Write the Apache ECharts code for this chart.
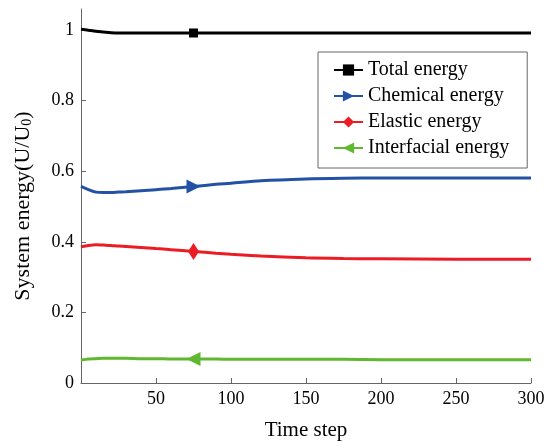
<!DOCTYPE html>
<html>
<head>
<meta charset="utf-8">
<script src="https://cdn.jsdelivr.net/npm/echarts@6/dist/echarts.min.js"></script>
<style>html,body{margin:0;padding:0;background:#fff}#c{width:550px;height:446px}</style>
</head>
<body>
<div id="c"></div>
<script>
var timeSteps   = [0, 5, 10, 15, 20, 25, 30, 40, 50, 60, 75, 90, 100, 120, 150, 175, 200, 250, 300];
var totalEnergy = [1.003, 1.0, 0.997, 0.995, 0.993, 0.992, 0.992, 0.992, 0.992, 0.992, 0.992, 0.992, 0.992, 0.992, 0.992, 0.992, 0.992, 0.992, 0.992];
var chemEnergy  = [0.557, 0.548, 0.541, 0.540, 0.540, 0.541, 0.542, 0.545, 0.548, 0.551, 0.557, 0.563, 0.566, 0.573, 0.578, 0.580, 0.581, 0.581, 0.581];
var elasEnergy  = [0.386, 0.390, 0.392, 0.391, 0.390, 0.388, 0.387, 0.384, 0.381, 0.378, 0.373, 0.368, 0.365, 0.360, 0.355, 0.353, 0.352, 0.351, 0.351];
var intfEnergy  = [0.065, 0.068, 0.069, 0.070, 0.070, 0.070, 0.070, 0.069, 0.069, 0.068, 0.068, 0.068, 0.067, 0.067, 0.067, 0.067, 0.066, 0.066, 0.066];
var markerStep  = 75;
var xTicks = [50, 100, 150, 200, 250, 300];
var yTicks = [0, 0.2, 0.4, 0.6, 0.8, 1];
var seriesNames = ['Total energy', 'Chemical energy', 'Elastic energy', 'Interfacial energy'];

function build(vals) {
  return timeSteps.map(function (x, i) {
    return x === markerStep ? [x, vals[i]] : { value: [x, vals[i]], symbol: 'none' };
  });
}
var FONT = '"Liberation Serif", "Times New Roman", serif';
var chart = echarts.init(document.getElementById('c'));
function mk(name, vals, color, symbol, size, rot) {
  return {
    name: name, type: 'line', data: build(vals), smooth: 0.3,
    symbol: symbol, symbolSize: size, symbolRotate: rot, showSymbol: true,
    lineStyle: { color: color, width: 3 }, itemStyle: { color: color },
    emphasis: { disabled: true }, z: 3
  };
}
chart.setOption({
  animation: false,
  grid: { left: 81, right: 19, top: 9, bottom: 61, containLabel: false },
  xAxis: {
    type: 'value', min: 0, max: 300, interval: 50,
    name: 'Time step', nameLocation: 'middle', nameGap: 37,
    nameTextStyle: { fontFamily: FONT, fontSize: 21, color: '#000' },
    axisLine: { show: true, lineStyle: { color: '#666', width: 1 } },
    axisTick: { show: true, inside: true, length: 5, customValues: xTicks, lineStyle: { color: '#666' } },
    axisLabel: { customValues: xTicks, fontFamily: FONT, fontSize: 18, color: '#000', margin: 7 },
    splitLine: { show: false }
  },
  yAxis: {
    type: 'value', min: 0, max: 1.06,
    name: 'System energy(U/U{sub|0})', nameLocation: 'middle', nameGap: 47, nameRotate: 90,
    nameTextStyle: { fontFamily: FONT, fontSize: 22, color: '#000', padding: [0, 20, 0, 0],
      rich: { sub: { fontFamily: FONT, fontSize: 14, color: '#000', verticalAlign: 'bottom', lineHeight: 14, padding: [10, 0, 0, 0] } } },
    axisLine: { show: true, lineStyle: { color: '#666', width: 1 } },
    axisTick: { show: true, inside: true, length: 5, customValues: yTicks, lineStyle: { color: '#666' } },
    axisLabel: { customValues: yTicks, fontFamily: FONT, fontSize: 18, color: '#000', margin: 7,
      formatter: function (v) { return String(+v.toFixed(1)); } },
    splitLine: { show: false }
  },
  legend: {
    orient: 'vertical', left: 318, top: 52,
    padding: [8, 18, 10, 15], itemGap: 6, itemWidth: 29, itemHeight: 14,
    borderColor: '#666', borderWidth: 1, backgroundColor: '#fff',
    textStyle: { fontFamily: FONT, fontSize: 20, color: '#000', lineHeight: 20 },
    data: seriesNames
  },
  series: [
    mk(seriesNames[0], totalEnergy, '#000000', 'rect', 9, 0),
    mk(seriesNames[1], chemEnergy, '#2251a6', 'triangle', 14, -90),
    mk(seriesNames[2], elasEnergy, '#ec1c24', 'diamond', [11, 17], 0),
    mk(seriesNames[3], intfEnergy, '#5fb82f', 'triangle', 14, 90)
  ]
});
</script>
</body>
</html>
